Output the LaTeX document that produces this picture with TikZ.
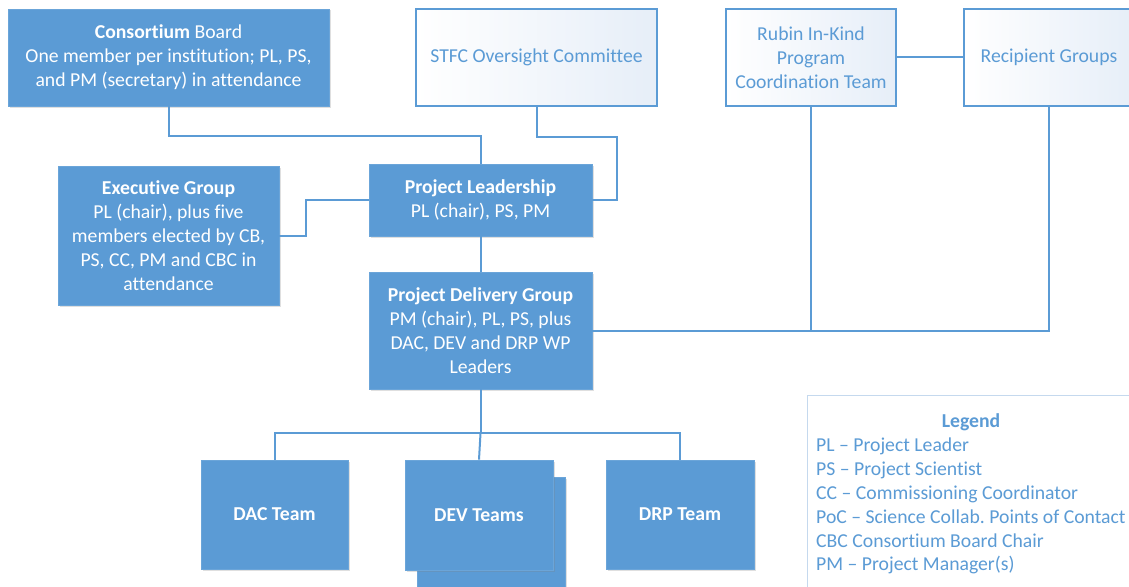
\documentclass[tikz,border=0pt]{standalone}
\usepackage{fontspec}
\setmainfont{Carlito}[Ligatures=NoCommon]
\frenchspacing
\usetikzlibrary{shadows}
\definecolor{mblue}{HTML}{5B9BD5}
\definecolor{ltxt}{HTML}{5B9BD5}
\definecolor{lgb}{HTML}{C5D9EE}
\definecolor{pale}{HTML}{E6EEF8}
\tikzset{
  txt/.style={font=\fontsize{19.7}{24}\selectfont},
  solidbox/.style={draw=mblue!90!white, line width=0.8pt, fill=mblue, text=white, align=center,
    inner sep=2pt, txt,
    drop shadow={opacity=0.25, shadow xshift=1.5pt, shadow yshift=-1.5pt}},
  openbox/.style={draw=mblue, line width=1.3pt, left color=white, right color=pale, text=ltxt, align=center,
    inner sep=2pt, txt},
  conn/.style={draw=mblue, line width=2pt},
}
\begin{document}
\begin{tikzpicture}[x=1pt,y=-1pt]
\useasboundingbox (0,0) rectangle (1129,586);
\clip (0,0) rectangle (1129,586);
% top row
\node[solidbox, minimum width=321pt, minimum height=97pt] (cb) at (168.5,57.5)
  {\textbf{Consortium} Board\\One member per institution; PL, PS,\\and PM (secretary) in attendance};
\node[openbox, minimum width=241pt, minimum height=97pt] (stfc) at (536.5,57.5) {STFC Oversight Committee};
\node[openbox, minimum width=170pt, minimum height=97pt] (rk) at (811,57.5) {Rubin In-Kind\\Program\\Coordination Team};
\node[openbox, minimum width=170pt, minimum height=97pt] (rg) at (1049,57.5) {Recipient Groups};
% middle
\node[solidbox, minimum width=221pt, minimum height=139pt] (eg) at (168.5,235.5)
  {\textbf{Executive Group}\\PL (chair), plus five\\members elected by CB,\\PS, CC, PM and CBC in\\attendance};
\node[solidbox, minimum width=223pt, minimum height=72pt] (pl) at (480.5,200)
  {\textbf{Project Leadership}\\PL (chair), PS, PM};
\node[solidbox, minimum width=223pt, minimum height=117pt] (pdg) at (480.5,330.5)
  {\textbf{Project Delivery Group}\\PM (chair), PL, PS, plus\\DAC, DEV and DRP WP\\Leaders};
% teams
\node[solidbox, minimum width=148pt, minimum height=110pt] (devb) at (491,532) {};
\node[solidbox, minimum width=147pt, minimum height=109pt] (dac) at (274.5,514.5) {\textbf{DAC Team}};
\node[solidbox, minimum width=148pt, minimum height=110pt] (dev) at (479,515) {\textbf{DEV Teams}};
\node[solidbox, minimum width=148pt, minimum height=109pt] (drp) at (680,514.5) {\textbf{DRP Team}};
% legend
\node[draw=lgb, line width=1.2pt, fill=white, minimum width=340pt, minimum height=210pt, anchor=north west,
  inner sep=0pt] (lg) at (807,395) {};
\node[text=ltxt, font=\fontsize{19.7}{24}\selectfont\bfseries] (lgt) at (971,422) {Legend};
\node[text=ltxt, font=\fontsize{19.7}{23.8}\selectfont, align=left, anchor=north west, inner sep=0pt] (lgx) at (816,438)
  {PL – Project Leader\\PS – Project Scientist\\CC – Commissioning Coordinator\\PoC – Science Collab. Points of Contact\\CBC Consortium Board Chair\\PM – Project Manager(s)};
% connectors
\draw[conn] (cb.south) -- ++(0,30) -| (pl.north);
\draw[conn] (stfc.south) -- ++(0,30) -| ([xshift=25pt]pl.east) -- (pl.east);
\draw[conn] (eg.east) -- ++(27,0) |- (pl.west);
\draw[conn] (pl.south) -- (pdg.north);
\draw[conn] (rk.east) -- (rg.west);
\draw[conn] (pdg.east) -| (rg.south);
\draw[conn] (rk.south) -- (rk.south |- pdg.east);
\draw[conn] (pdg.south) -- ++(0,44) coordinate (j);
\draw[conn] (dac.north) |- (j) -| (drp.north);
\draw[conn] (j) -- (dev.north);
\end{tikzpicture}
\end{document}
